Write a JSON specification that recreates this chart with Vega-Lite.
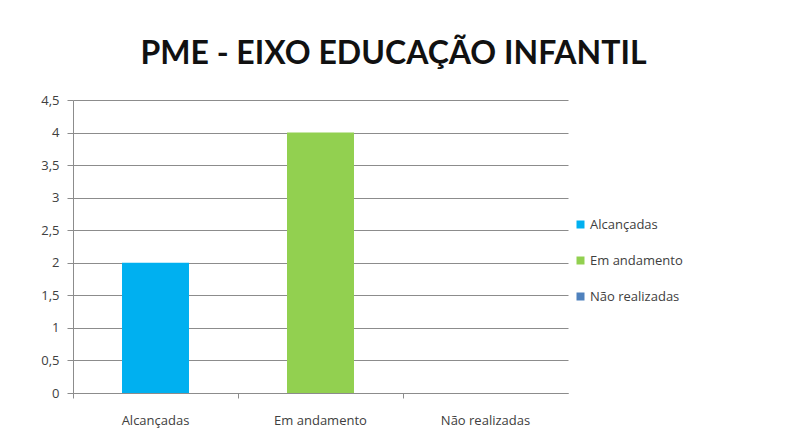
{
  "$schema": "https://vega.github.io/schema/vega-lite/v6.json",
  "autosize": {"type": "none"},
  "padding": {"left": 73, "top": 100, "right": 227, "bottom": 46},
  "width": 495,
  "height": 293,
  "background": "white",
  "title": {
    "text": "PME - EIXO EDUCAÇÃO INFANTIL",
    "font": "Lato",
    "fontSize": 32,
    "fontWeight": "bold",
    "color": "#111111",
    "anchor": "middle",
    "dx": 73,
    "offset": 23
  },
  "data": {
    "values": [
      {"categoria": "Alcançadas", "valor": 2},
      {"categoria": "Em andamento", "valor": 4},
      {"categoria": "Não realizadas", "valor": 0}
    ]
  },
  "mark": {"type": "bar"},
  "encoding": {
    "x": {
      "field": "categoria",
      "type": "nominal",
      "sort": ["Alcançadas", "Em andamento", "Não realizadas"],
      "scale": {"paddingInner": 0.594, "paddingOuter": 0.297},
      "axis": {
        "title": null,
        "labelAngle": 0,
        "bandPosition": -0.73,
        "labelFont": "Open Sans",
        "labelFontSize": 13,
        "labelColor": "#404040",
        "labelPadding": 16,
        "domainColor": "#8c8c8c",
        "tickColor": "#8c8c8c",
        "tickSize": 5,
        "grid": false
      }
    },
    "y": {
      "field": "valor",
      "type": "quantitative",
      "scale": {"domain": [0, 4.5], "nice": false},
      "axis": {
        "title": null,
        "values": [0, 0.5, 1, 1.5, 2, 2.5, 3, 3.5, 4, 4.5],
        "labelExpr": "replace(format(datum.value, '~g'), '.', ',')",
        "labelFont": "Open Sans",
        "labelFontSize": 13,
        "labelColor": "#404040",
        "labelPadding": 8,
        "domainColor": "#8c8c8c",
        "tickColor": "#8c8c8c",
        "tickSize": 6,
        "grid": true,
        "gridColor": "#8c8c8c",
        "gridWidth": 1
      }
    },
    "color": {
      "field": "categoria",
      "type": "nominal",
      "sort": ["Alcançadas", "Em andamento", "Não realizadas"],
      "scale": {
        "domain": ["Alcançadas", "Em andamento", "Não realizadas"],
        "range": ["#00B0F0", "#92D050", "#4F81BD"]
      },
      "legend": {
        "title": null,
        "orient": "none",
        "legendX": 501,
        "legendY": 118,
        "symbolType": "square",
        "symbolSize": 64,
        "symbolStrokeWidth": 0,
        "rowPadding": 22,
        "labelFont": "Open Sans",
        "labelFontSize": 13,
        "labelColor": "#404040",
        "labelOffset": 3
      }
    }
  },
  "config": {
    "view": {"stroke": null}
  }
}
